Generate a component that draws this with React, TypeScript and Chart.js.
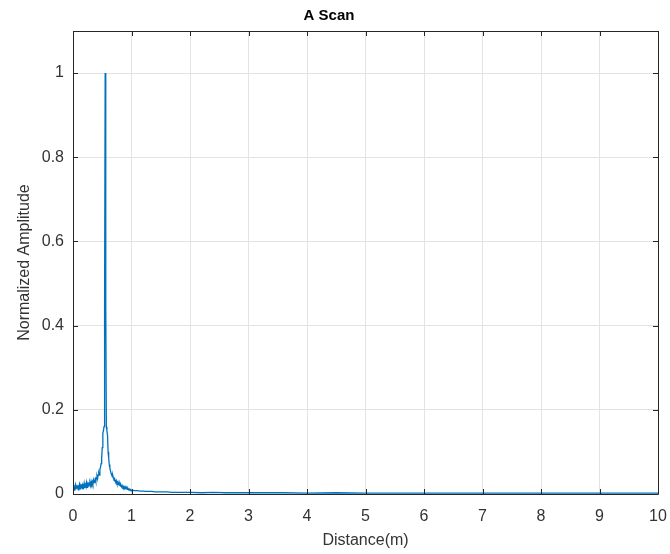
import React, { useEffect, useRef } from "react";
import { Chart, registerables } from "chart.js";

Chart.register(...registerables);

const distance: number[] = [
  0.0, 0.01, 0.02, 0.03, 0.04, 0.05, 0.06, 0.07, 0.08, 0.09,
  0.1, 0.11, 0.12, 0.13, 0.14, 0.15, 0.16, 0.17, 0.18, 0.19,
  0.2, 0.21, 0.22, 0.23, 0.24, 0.25, 0.26, 0.27, 0.28, 0.29,
  0.3, 0.31, 0.32, 0.33, 0.34, 0.35, 0.36, 0.37, 0.38, 0.39,
  0.4, 0.41, 0.42, 0.43, 0.44, 0.45, 0.46, 0.47, 0.48, 0.49,
  0.5, 0.51, 0.52, 0.53, 0.54, 0.55, 0.56, 0.57, 0.58, 0.59,
  0.6, 0.61, 0.62, 0.63, 0.64, 0.65, 0.66, 0.67, 0.68, 0.69,
  0.7, 0.71, 0.72, 0.73, 0.74, 0.75, 0.76, 0.77, 0.78, 0.79,
  0.8, 0.81, 0.82, 0.83, 0.84, 0.85, 0.86, 0.87, 0.88, 0.89,
  0.9, 0.91, 0.92, 0.93, 0.94, 0.95, 0.96, 0.97, 0.98, 0.99,
  1.0, 1.05, 1.1, 1.15, 1.2, 1.25, 1.3, 1.35, 1.4, 1.5,
  1.6, 1.7, 1.8, 1.9, 2.0, 2.2, 2.4, 2.6, 2.8, 3.0,
  3.3, 3.6, 4.0, 4.5, 5.0, 5.5, 6.0, 6.5, 7.0, 7.5,
  8.0, 8.5, 9.0, 9.5, 10.0,
];

const amplitude: number[] = [
  0.012, 0.020, 0.009, 0.016, 0.022, 0.011, 0.018, 0.014, 0.021, 0.010,
  0.017, 0.023, 0.012, 0.019, 0.015, 0.024, 0.013, 0.020, 0.016, 0.025,
  0.014, 0.022, 0.018, 0.027, 0.016, 0.023, 0.019, 0.028, 0.021, 0.026,
  0.020, 0.030, 0.024, 0.029, 0.023, 0.033, 0.027, 0.031, 0.036, 0.030,
  0.038, 0.042, 0.036, 0.046, 0.050, 0.045, 0.058, 0.064, 0.072, 0.085,
  0.11, 0.145, 0.15, 0.16, 0.45, 1.0, 0.45, 0.16, 0.15, 0.14,
  0.10, 0.085, 0.07, 0.062, 0.055, 0.05, 0.046, 0.042, 0.044, 0.038,
  0.035, 0.037, 0.031, 0.029, 0.032, 0.026, 0.028, 0.023, 0.025, 0.021,
  0.024, 0.019, 0.021, 0.017, 0.020, 0.016, 0.018, 0.015, 0.017, 0.013,
  0.015, 0.012, 0.014, 0.011, 0.013, 0.010, 0.012, 0.010, 0.011, 0.009,
  0.009, 0.008, 0.008, 0.007, 0.007, 0.006, 0.006, 0.006, 0.005, 0.005,
  0.005, 0.004, 0.004, 0.004, 0.004, 0.003, 0.004, 0.003, 0.003, 0.003,
  0.003, 0.003, 0.002, 0.003, 0.002, 0.002, 0.002, 0.002, 0.002, 0.002,
  0.002, 0.002, 0.002, 0.002, 0.002,
];

const xTicks: number[] = [0, 1, 2, 3, 4, 5, 6, 7, 8, 9, 10];
const yTicks: number[] = [0, 0.2, 0.4, 0.6, 0.8, 1.0];

const AXIS_COLOR = "#262626";
const LABEL_COLOR = "#333333";
const FONT = "'Liberation Sans', Arial, Helvetica, sans-serif";

const boxPlugin = {
  id: "matlabBox",
  afterDatasetsDraw(chart: any) {
    const { ctx, chartArea } = chart;
    const { left, right, top, bottom } = chartArea;
    const xs = chart.scales.x;
    const ys = chart.scales.y;
    ctx.save();
    ctx.strokeStyle = AXIS_COLOR;
    ctx.lineWidth = 1;
    const tl = 5;
    ctx.beginPath();
    xTicks.forEach((v) => {
      const px = Math.round(xs.getPixelForValue(v)) + 0.5;
      ctx.moveTo(px, bottom);
      ctx.lineTo(px, bottom - tl);
      ctx.moveTo(px, top);
      ctx.lineTo(px, top + tl);
    });
    yTicks.forEach((v) => {
      const py = Math.round(ys.getPixelForValue(v)) + 0.5;
      ctx.moveTo(left, py);
      ctx.lineTo(left + tl, py);
      ctx.moveTo(right, py);
      ctx.lineTo(right - tl, py);
    });
    ctx.stroke();
    ctx.beginPath();
    ctx.rect(Math.round(left) + 0.5, Math.round(top) + 0.5, Math.round(right - left), Math.round(bottom - top));
    ctx.stroke();
    ctx.restore();
  },
};

export default function App() {
  const canvasRef = useRef<HTMLCanvasElement | null>(null);

  useEffect(() => {
    const canvas = canvasRef.current;
    if (!canvas) return;
    const data = distance.map((d, i) => ({ x: d, y: amplitude[i] }));
    const chart = new Chart(canvas, {
      type: "line",
      data: {
        datasets: [
          {
            label: "A Scan",
            data,
            borderColor: "#0072BD",
            borderWidth: 1.3,
            pointRadius: 0,
            tension: 0,
            fill: false,
          },
        ],
      },
      options: {
        animation: false,
        responsive: false,
        maintainAspectRatio: false,
        layout: { padding: { top: 0, right: 12, bottom: 0, left: 0 } },
        plugins: {
          legend: { display: false },
          tooltip: { enabled: false },
          title: {
            display: true,
            text: "A Scan",
            color: "#000000",
            font: { family: FONT, size: 15, weight: "bold" },
            padding: { top: 7, bottom: 6 },
          },
        },
        scales: {
          x: {
            type: "linear",
            min: 0,
            max: 10,
            afterBuildTicks: (scale: any) => {
              scale.ticks = xTicks.map((v) => ({ value: v }));
            },
            afterFit: (scale: any) => {
              scale.height = 554 - 494;
              scale.paddingLeft = 0;
              scale.paddingRight = 0;
            },
            ticks: {
              color: LABEL_COLOR,
              font: { family: FONT, size: 16 },
              padding: 13,
              maxRotation: 0,
              callback: (v: any) => String(v),
            },
            grid: { color: "#e3e3e3", lineWidth: 1, drawTicks: false },
            border: { display: false },
            title: {
              display: true,
              text: "Distance(m)",
              color: LABEL_COLOR,
              font: { family: FONT, size: 16 },
              padding: { top: 0, bottom: 4 },
            },
          },
          y: {
            type: "linear",
            min: 0,
            max: 1.1,
            afterBuildTicks: (scale: any) => {
              scale.ticks = yTicks.map((v) => ({ value: v }));
            },
            afterFit: (scale: any) => {
              scale.width = 73;
              scale.paddingTop = 0;
              scale.paddingBottom = 0;
            },
            ticks: {
              color: LABEL_COLOR,
              font: { family: FONT, size: 16 },
              padding: 9,
              callback: (v: any) => String(Math.round(Number(v) * 10) / 10),
            },
            grid: { color: "#e3e3e3", lineWidth: 1, drawTicks: false },
            border: { display: false },
            title: {
              display: true,
              text: "Normalized Amplitude",
              color: LABEL_COLOR,
              font: { family: FONT, size: 16 },
              padding: { top: 15, bottom: 0 },
            },
          },
        },
      },
      plugins: [boxPlugin],
    });
    return () => chart.destroy();
  }, []);

  return (
    <div style={{ position: "absolute", left: 0, top: 0, width: 670, height: 554, background: "#ffffff" }}>
      <canvas ref={canvasRef} width={670} height={554} style={{ width: 670, height: 554 }} />
    </div>
  );
}
